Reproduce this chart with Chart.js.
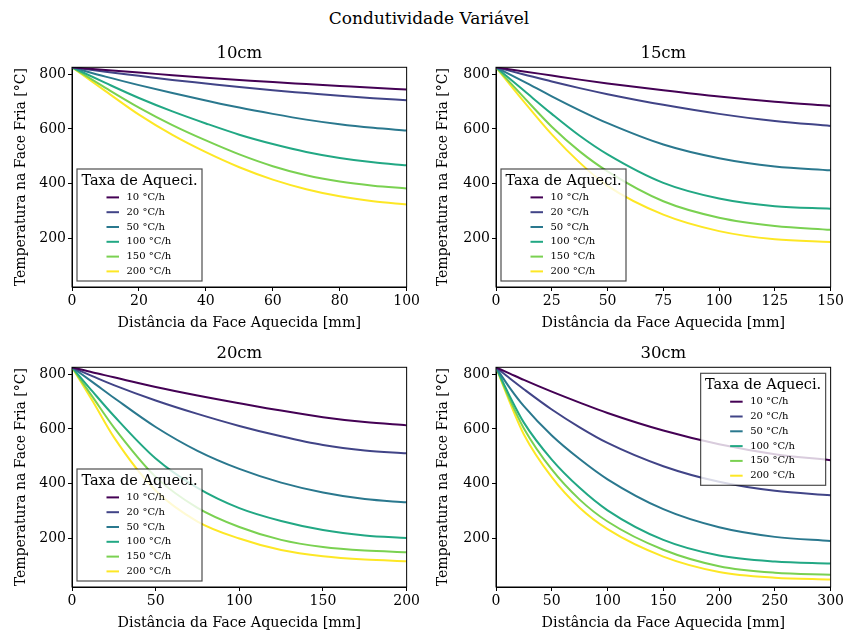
<!DOCTYPE html>
<html>
<head>
<meta charset="utf-8">
<script src="https://cdn.jsdelivr.net/npm/chart.js@4.4.1/dist/chart.umd.min.js"></script>
<style>
  html, body { margin: 0; padding: 0; background: #fff; overflow: hidden; }
  body { width: 846px; height: 635px; position: relative; }
  #suptitle { position: absolute; top: 8px; left: 6px; width: 846px; text-align: center;
    font: 17px 'DejaVu Serif'; line-height: 20px; color: #000; }
  canvas { position: absolute; }
</style>
</head>
<body>
<div id="suptitle">Condutividade Variável</div>
<canvas id="c10" width="422" height="300" style="left:0;top:40px"></canvas>
<canvas id="c15" width="424" height="300" style="left:422px;top:40px"></canvas>
<canvas id="c20" width="422" height="300" style="left:0;top:340px"></canvas>
<canvas id="c30" width="424" height="300" style="left:422px;top:340px"></canvas>
<script>
const rates = ['10 °C/h', '20 °C/h', '50 °C/h', '100 °C/h', '150 °C/h', '200 °C/h'];
const yTicks = [200, 400, 600, 800];

// 10cm
const dist10 = [0, 10, 20, 30, 40, 50, 60, 70, 80, 90, 100];
const ticks10 = [0, 20, 40, 60, 80, 100];
const t10_r10 = [825, 815, 806, 796, 787, 779, 771, 764, 757, 750, 744];
const t10_r20 = [825, 809, 794, 779, 766, 753, 741, 731, 721, 712, 705];
const t10_r50 = [825, 791, 760, 731, 704, 678, 655, 634, 617, 604, 594];
const t10_r100 = [825, 768, 713, 664, 620, 579, 545, 516, 494, 478, 467];
const t10_r150 = [825, 750, 678, 614, 558, 507, 464, 431, 408, 393, 383];
const t10_r200 = [825, 738, 652, 578, 515, 460, 415, 380, 354, 336, 324];

// 15cm
const dist15 = [0, 12.5, 25, 37.5, 50, 75, 100, 125, 150];
const ticks15 = [0, 25, 50, 75, 100, 125, 150];
const t15_r10 = [825, 810, 795, 780, 766, 741, 718, 699, 684];
const t15_r20 = [825, 799, 773, 749, 727, 688, 655, 629, 611];
const t15_r50 = [825, 773, 719, 668, 621, 543, 493, 463, 449];
const t15_r100 = [825, 740, 655, 575, 507, 403, 346, 318, 309];
const t15_r150 = [825, 715, 608, 518, 445, 336, 276, 246, 232];
const t15_r200 = [825, 700, 580, 477, 392, 287, 227, 197, 187];

// 20cm
const dist20 = [0, 12.5, 25, 50, 75, 100, 125, 150, 175, 200];
const ticks20 = [0, 50, 100, 150, 200];
const t20_r10 = [825, 806, 789, 753, 722, 694, 667, 643, 625, 613];
const t20_r20 = [825, 792, 760, 704, 655, 611, 573, 541, 521, 511];
const t20_r50 = [825, 770, 714, 607, 520, 454, 404, 368, 344, 332];
const t20_r100 = [825, 735, 648, 492, 385, 311, 264, 231, 211, 202];
const t20_r150 = [825, 715, 606, 425, 312, 242, 195, 169, 156, 150];
const t20_r200 = [825, 700, 570, 375, 262, 200, 158, 135, 123, 117];

// 30cm
const dist30 = [0, 12.5, 25, 50, 75, 100, 150, 200, 250, 300];
const ticks30 = [0, 50, 100, 150, 200, 250, 300];
const t30_r10 = [825, 802, 779, 736, 696, 658, 594, 544, 508, 486];
const t30_r20 = [825, 784, 745, 671, 606, 549, 464, 407, 374, 358];
const t30_r50 = [825, 749, 683, 576, 490, 416, 307, 241, 206, 191];
const t30_r100 = [825, 718, 623, 488, 385, 303, 195, 138, 116, 109];
const t30_r150 = [825, 706, 602, 452, 342, 262, 159, 99, 75, 68];
const t30_r200 = [825, 696, 580, 424, 312, 234, 134, 78, 57, 50];

const viridis = ['#440154', '#414487', '#2a788e', '#22a884', '#7ad151', '#fde725'];
const serif = 'DejaVu Serif';

// titulo do subplot, moldura dos eixos e legenda semi-transparente
const boxPlugin = {
  id: 'boxLegend',
  afterDatasetsDraw(chart, args, opts) {
    const { ctx, chartArea: a } = chart;
    ctx.save();
    ctx.strokeStyle = '#000';
    ctx.lineWidth = 1;
    ctx.strokeRect(a.left, a.top, a.right - a.left, a.bottom - a.top);

    ctx.fillStyle = '#000';
    ctx.textBaseline = 'middle';
    ctx.textAlign = 'center';
    ctx.font = '16.5px "' + serif + '"';
    ctx.fillText(opts.title, (a.left + a.right) / 2, a.top - 14);

    const w = 125, h = 112;
    const x0 = opts.corner === 'ur' ? a.right - 5 - w : a.left + 5;
    const y0 = opts.corner === 'ur' ? a.top + 6 : a.bottom - 6 - h;
    ctx.fillStyle = 'rgba(255,255,255,0.8)';
    ctx.fillRect(x0, y0, w, h);
    ctx.strokeStyle = 'rgba(0,0,0,0.7)';
    ctx.lineWidth = 1.2;
    ctx.strokeRect(x0, y0, w, h);

    ctx.fillStyle = '#000';
    ctx.font = '14.5px "' + serif + '"';
    ctx.fillText('Taxa de Aqueci.', x0 + w / 2, y0 + 12);
    ctx.textAlign = 'left';
    ctx.font = '10px "' + serif + '"';
    chart.data.datasets.forEach((ds, i) => {
      const y = y0 + 28.4 + i * 14.8;
      ctx.strokeStyle = ds.borderColor;
      ctx.lineWidth = 2;
      ctx.beginPath();
      ctx.moveTo(x0 + 29.5, y);
      ctx.lineTo(x0 + 42, y);
      ctx.stroke();
      ctx.fillText(ds.label, x0 + 49.5, y);
    });
    ctx.restore();
  }
};

function drawPanel(id, title, dist, series, xTicks, corner, yWidth) {
  const datasets = series.map((temps, i) => ({
    label: rates[i],
    data: temps.map((t, j) => ({ x: dist[j], y: t })),
    borderColor: viridis[i],
    borderWidth: 2,
    pointRadius: 0,
    cubicInterpolationMode: 'monotone',
    fill: false
  }));

  new Chart(document.getElementById(id), {
    type: 'line',
    data: { datasets },
    plugins: [boxPlugin],
    options: {
      responsive: false,
      animation: false,
      devicePixelRatio: 1,
      layout: { padding: { right: 15, left: 0, top: 27.3, bottom: 0 } },
      plugins: {
        legend: { display: false },
        tooltip: { enabled: false },
        title: { display: false },
        boxLegend: { corner, title }
      },
      scales: {
        x: {
          type: 'linear',
          min: dist[0],
          max: dist[dist.length - 1],
          afterBuildTicks: s => { s.ticks = xTicks.map(v => ({ value: v })); },
          afterFit: s => { s.height = 53; },
          grid: { drawOnChartArea: false, drawTicks: true, tickLength: 4, color: '#000' },
          border: { color: '#000' },
          ticks: { color: '#000', padding: 2, maxRotation: 0, font: { family: serif, size: 14 } },
          title: {
            display: true,
            text: 'Distância da Face Aquecida [mm]',
            color: '#000',
            font: { family: serif, size: 14.3 },
            padding: { top: 0, bottom: 8.4 }
          }
        },
        y: {
          min: 23,
          max: 825,
          afterBuildTicks: s => { s.ticks = yTicks.map(v => ({ value: v })); },
          afterFit: s => { s.width = yWidth; },
          grid: { drawOnChartArea: false, drawTicks: true, tickLength: 4, color: '#000' },
          border: { color: '#000' },
          ticks: { color: '#000', padding: 2, font: { family: serif, size: 14 } },
          title: {
            display: true,
            text: 'Temperatura na Face Fria [°C]',
            color: '#000',
            font: { family: serif, size: 14 },
            padding: { top: 12.6, bottom: 0 }
          }
        }
      }
    }
  });
}

drawPanel('c10', '10cm', dist10, [t10_r10, t10_r20, t10_r50, t10_r100, t10_r150, t10_r200], ticks10, 'll', 72);
drawPanel('c15', '15cm', dist15, [t15_r10, t15_r20, t15_r50, t15_r100, t15_r150, t15_r200], ticks15, 'll', 74);
drawPanel('c20', '20cm', dist20, [t20_r10, t20_r20, t20_r50, t20_r100, t20_r150, t20_r200], ticks20, 'll', 72);
drawPanel('c30', '30cm', dist30, [t30_r10, t30_r20, t30_r50, t30_r100, t30_r150, t30_r200], ticks30, 'ur', 74);
</script>
</body>
</html>
